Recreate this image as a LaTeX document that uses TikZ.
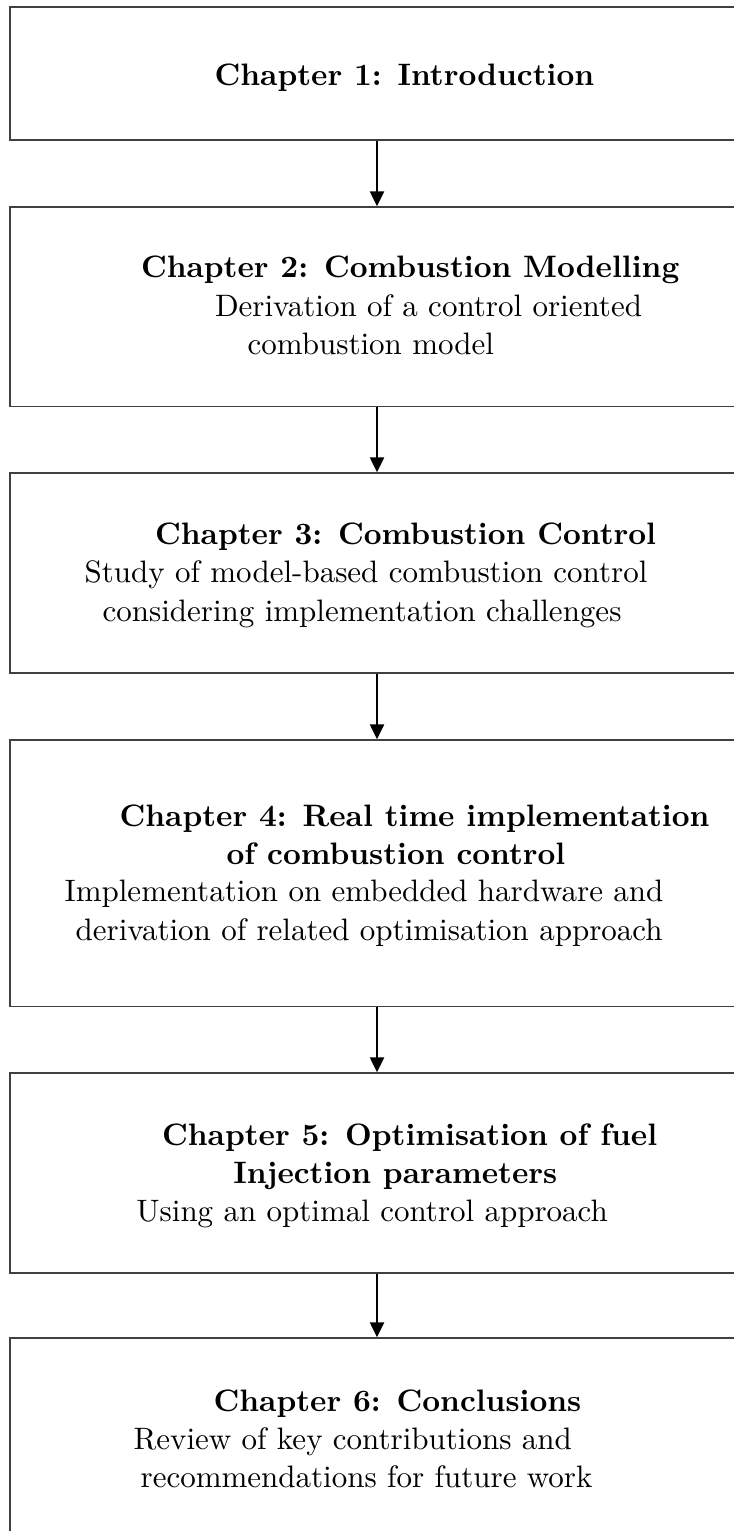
\documentclass[tikz,border=0pt]{standalone}
\usetikzlibrary{arrows.meta,fit}
\begin{document}
\begin{tikzpicture}[x=0.32258pt,y=-0.32258pt,
  font=\fontsize{10}{12}\selectfont,
  box/.style={draw=black!75,line width=0.5pt,inner sep=0pt},
  arr/.style={draw=black,line width=0.45pt,-{Triangle[length=4.8pt,width=4.6pt]}},
  ttl/.style={anchor=base west,inner sep=0pt,font=\fontsize{10}{12}\selectfont\bfseries},
  txt/.style={anchor=base west,inner sep=0pt}]
\useasboundingbox (0,0) rectangle (734,1531);
\clip (0,0) rectangle (734,1531);
% boxes
\node[box,fit={(10,7)(744,140)}] (b1) {};
\node[box,fit={(10,207)(744,406.5)}] (b2) {};
\node[box,fit={(10,473)(744,673)}] (b3) {};
\node[box,fit={(10,740)(744,1006.5)}] (b4) {};
\node[box,fit={(10,1073)(744,1273)}] (b5) {};
\node[box,fit={(10,1338)(744,1560)}] (b6) {};
% connectors
\draw[arr] (b1) -- (b2);
\draw[arr] (b2) -- (b3);
\draw[arr] (b3) -- (b4);
\draw[arr] (b4) -- (b5);
\draw[arr] (b5) -- (b6);
% texts
\node[ttl] (t1a) at (214,86) {Chapter 1: Introduction};
\node[ttl] (t2a) at (140.4,278) {Chapter 2: Combustion Modelling};
\node[txt] (t2b) at (214.4,317) {Derivation of a control oriented};
\node[txt] (t2c) at (247,355) {combustion model};
\node[ttl] (t3a) at (154.5,545) {Chapter 3: Combustion Control};
\node[txt] (t3b) at (84,582.7) {Study of model-based combustion control};
\node[txt] (t3c) at (102,621.7) {considering implementation challenges};
\node[ttl] (t4a) at (119,826) {Chapter 4: Real time implementation};
\node[ttl] (t4b) at (226,864) {of combustion control};
\node[txt] (t4c) at (64,901.7) {Implementation on embedded hardware and};
\node[txt] (t4d) at (75,940) {derivation of related optimisation approach};
\node[ttl] (t5a) at (161.5,1145) {Chapter 5: Optimisation of fuel};
\node[ttl] (t5b) at (232.7,1183) {Injection parameters};
\node[txt] (t5c) at (135.8,1221) {Using an optimal control approach};
\node[ttl] (t6a) at (213,1411) {Chapter 6: Conclusions};
\node[txt] (t6b) at (133,1449) {Review of key contributions and};
\node[txt] (t6c) at (140,1487) {recommendations for future work};
\end{tikzpicture}
\end{document}
